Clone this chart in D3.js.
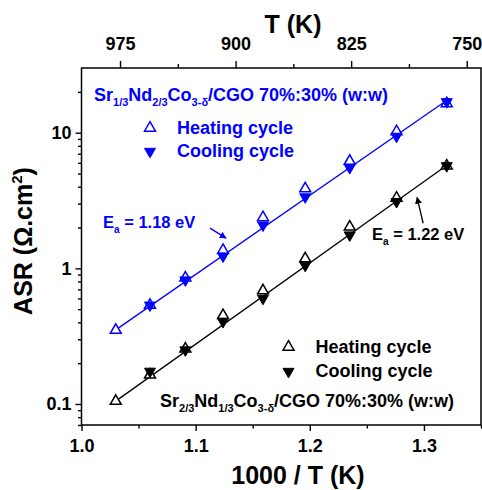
<!DOCTYPE html>
<html>
<head>
<meta charset="utf-8">
<script src="https://cdn.jsdelivr.net/npm/d3@7"></script>
<style>
  body { margin: 0; background: #fff; }
  svg text { font-family: "Liberation Sans", Arial, sans-serif; font-weight: bold; }
</style>
</head>
<body>
<div id="chart"></div>
<script>
/* data */
var invT = [1.030, 1.060, 1.091, 1.124, 1.159, 1.196, 1.235, 1.276, 1.320];
var blueHeat = [0.35, 0.535, 0.85, 1.36, 2.37, 3.87, 6.17, 10.2, 16.4];
var blueCool = [null, 0.535, 0.82, 1.23, 2.08, 3.36, 5.52, 9.4, 16.9];
var blackHeat = [0.105, 0.164, 0.255, 0.45, 0.685, 1.18, 2.02, 3.3, 5.7];
var blackCool = [null, 0.174, 0.25, 0.405, 0.60, 1.05, 1.76, 3.1, 5.7];
var fitX = [1.030, 1.322];
var blueFit = [0.352, 17.8];
var blackFit = [0.105, 5.9];
var xTicks = [1.0, 1.1, 1.2, 1.3];
var xMinor = [1.05, 1.15, 1.25, 1.35];
var tTicks = [975, 900, 825, 750];
var tMinor = [937.5, 862.5, 787.5];
var yTicks = [0.1, 1, 10];
var yMinor = [0.07, 0.08, 0.09, 0.2, 0.3, 0.4, 0.5, 0.6, 0.7, 0.8, 0.9,
              2, 3, 4, 5, 6, 7, 8, 9, 20];
/* arrows, in data units: [x1, y1, x2, y2] */
var blueArrow = [1.1126, 1.98, 1.1266, 1.67];
var blackArrow = [1.2993, 2.15, 1.294, 3.34];

var BLUE = "#0000ff";

var margin = {top: 68, right: 1, bottom: 65, left: 81.5},
    width = 482,
    height = 490,
    plotW = width - margin.left - margin.right,
    plotH = height - margin.top - margin.bottom;

var svg = d3.select("#chart").append("svg")
    .attr("width", width)
    .attr("height", height);

svg.append("defs").append("marker")
    .attr("id", "arrowBlue")
    .attr("viewBox", "0 0 10 10")
    .attr("refX", 9).attr("refY", 5)
    .attr("markerWidth", 7).attr("markerHeight", 7)
    .attr("markerUnits", "userSpaceOnUse")
    .attr("orient", "auto")
    .append("path").attr("d", "M0,0 L10,5 L0,10 z").attr("fill", BLUE);
svg.select("defs").append("marker")
    .attr("id", "arrowBlack")
    .attr("viewBox", "0 0 10 10")
    .attr("refX", 9).attr("refY", 5)
    .attr("markerWidth", 7).attr("markerHeight", 7)
    .attr("markerUnits", "userSpaceOnUse")
    .attr("orient", "auto")
    .append("path").attr("d", "M0,0 L10,5 L0,10 z").attr("fill", "#000");

var plot = svg.append("g")
    .attr("transform", "translate(" + margin.left + "," + margin.top + ")");

var x = d3.scaleLinear().domain([1.0, 1.35]).range([0, plotW]);
var tScale = d3.scaleLinear().domain([1000, 1000 / 1.35]).range([0, plotW]);
var y = d3.scaleLog().domain([0.07, 30]).range([plotH, 0]);

function styleAxis(g) {
    g.attr("font-family", '"Liberation Sans", Arial, sans-serif')
     .attr("font-size", 18)
     .attr("font-weight", "bold");
    g.selectAll("line").attr("stroke-width", 1.4);
    g.select(".domain").remove();
}

/* major + minor ticks */
plot.append("g")
    .attr("transform", "translate(0," + plotH + ")")
    .call(d3.axisBottom(x).tickValues(xTicks).tickFormat(d3.format(".1f"))
          .tickSize(6).tickSizeOuter(0).tickPadding(8))
    .call(styleAxis);
plot.append("g")
    .attr("transform", "translate(0," + plotH + ")")
    .call(d3.axisBottom(x).tickValues(xMinor).tickFormat("").tickSize(3.5))
    .call(styleAxis);

plot.append("g")
    .call(d3.axisTop(tScale).tickValues(tTicks).tickFormat(d3.format("d"))
          .tickSize(7).tickPadding(11))
    .call(styleAxis);
plot.append("g")
    .call(d3.axisTop(tScale).tickValues(tMinor).tickFormat("").tickSize(4))
    .call(styleAxis);

plot.append("g")
    .call(d3.axisLeft(y).tickValues(yTicks).tickFormat(function(d) { return d < 1 ? d.toFixed(1) : d; })
          .tickSize(6).tickPadding(4))
    .call(styleAxis);
plot.append("g")
    .call(d3.axisLeft(y).tickValues(yMinor).tickFormat("").tickSize(3.5))
    .call(styleAxis);

/* frame */
plot.append("rect")
    .attr("width", plotW)
    .attr("height", plotH)
    .attr("fill", "none")
    .attr("stroke", "#000")
    .attr("stroke-width", 1.5);

/* fit lines */
var line = d3.line()
    .x(function(d) { return x(d[0]); })
    .y(function(d) { return y(d[1]); });

plot.append("path")
    .attr("d", line(d3.zip(fitX, blueFit)))
    .attr("fill", "none").attr("stroke", BLUE).attr("stroke-width", 1.3);
plot.append("path")
    .attr("d", line(d3.zip(fitX, blackFit)))
    .attr("fill", "none").attr("stroke", "#000").attr("stroke-width", 1.3);

/* markers */
var tri = d3.symbol().type(d3.symbolTriangle).size(52);

function drawPoints(values, color, open) {
    var pts = d3.zip(invT, values).filter(function(d) { return d[1] != null; });
    plot.append("g").selectAll("path")
        .data(pts)
        .enter().append("path")
        .attr("d", tri)
        .attr("transform", function(d) {
            return "translate(" + x(d[0]) + "," + y(d[1]) + ")" + (open ? "" : " rotate(180)");
        })
        .attr("fill", open ? "#fff" : color)
        .attr("stroke", color)
        .attr("stroke-width", open ? 1.5 : 1);
}
drawPoints(blueHeat, BLUE, true);
drawPoints(blueCool, BLUE, false);
drawPoints(blackHeat, "#000", true);
drawPoints(blackCool, "#000", false);

/* arrows */
plot.append("line")
    .attr("x1", x(blueArrow[0])).attr("y1", y(blueArrow[1]))
    .attr("x2", x(blueArrow[2])).attr("y2", y(blueArrow[3]))
    .attr("stroke", BLUE).attr("stroke-width", 1.3)
    .attr("marker-end", "url(#arrowBlue)");
plot.append("line")
    .attr("x1", x(blackArrow[0])).attr("y1", y(blackArrow[1]))
    .attr("x2", x(blackArrow[2])).attr("y2", y(blackArrow[3]))
    .attr("stroke", "#000").attr("stroke-width", 1.3)
    .attr("marker-end", "url(#arrowBlack)");

/* text with subscripts: parts = [[text, isSub], ...] */
function richText(px, py, parts, color, size, subSize) {
    var t = svg.append("text")
        .attr("x", px).attr("y", py)
        .attr("fill", color)
        .attr("font-size", size);
    var shift = 0;
    parts.forEach(function(p) {
        var want = p[1] ? 5 : 0;
        t.append("tspan")
            .attr("dy", want - shift)
            .attr("font-size", p[1] ? subSize : size)
            .text(p[0]);
        shift = want;
    });
    return t;
}

richText(94, 101, [["Sr", 0], ["1/3", 1], ["Nd", 0], ["2/3", 1], ["Co", 0], ["3-\u03b4", 1],
                   ["/CGO 70%:30% (w:w)", 0]], BLUE, 18, 11);
richText(160, 407, [["Sr", 0], ["2/3", 1], ["Nd", 0], ["1/3", 1], ["Co", 0], ["3-\u03b4", 1],
                    ["/CGO 70%:30% (w:w)", 0]], "#000", 18, 11);

richText(103, 228, [["E", 0], ["a", 1], [" = 1.18 eV", 0]], BLUE, 16.5, 10);
richText(372, 240, [["E", 0], ["a", 1], [" = 1.22 eV", 0]], "#000", 16.5, 10);

/* legends */
function legendRow(px, py, color, open, label) {
    svg.append("path")
        .attr("d", tri)
        .attr("transform", "translate(" + px + "," + py + ")" + (open ? "" : " rotate(180)"))
        .attr("fill", open ? "#fff" : color)
        .attr("stroke", color)
        .attr("stroke-width", open ? 1.5 : 1);
    svg.append("text")
        .text(label)
        .attr("x", px + 27)
        .attr("y", py + 5.5)
        .attr("fill", color)
        .attr("font-size", 18);
}
legendRow(150, 128, BLUE, true, "Heating cycle");
legendRow(150, 151.5, BLUE, false, "Cooling cycle");
legendRow(288.5, 347, "#000", true, "Heating cycle");
legendRow(288.5, 371.5, "#000", false, "Cooling cycle");

/* axis titles */
svg.append("text")
    .text("T (K)")
    .attr("x", 293)
    .attr("y", 33)
    .attr("text-anchor", "middle")
    .attr("font-size", 25);

svg.append("text")
    .text("1000 / T (K)")
    .attr("x", 298)
    .attr("y", 484)
    .attr("text-anchor", "middle")
    .attr("font-size", 25);

var yt = svg.append("text")
    .attr("transform", "translate(31.5,241) rotate(-90)")
    .attr("text-anchor", "middle")
    .attr("font-size", 25);
yt.append("tspan").text("ASR (\u03a9.cm");
yt.append("tspan").text("2").attr("font-size", 15).attr("dy", -10);
yt.append("tspan").text(")").attr("dy", 10);
</script>
</body>
</html>
